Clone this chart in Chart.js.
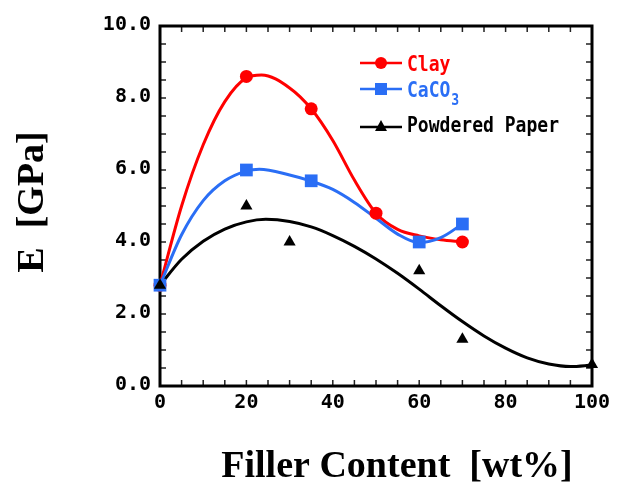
<!DOCTYPE html>
<html>
<head>
<meta charset="utf-8">
<script src="https://cdn.jsdelivr.net/npm/chart.js@4"></script>
<style>
  body { margin: 0; background: #fff; }
  canvas { display: block; }
</style>
</head>
<body>
<canvas id="myChart" width="617" height="490"></canvas>
<script>
// measured values (markers)
const clayFiller = [0, 20, 35, 50, 70];
const clayE = [2.8, 8.6, 7.7, 4.8, 4.0];
const caco3Filler = [0, 20, 35, 60, 70];
const caco3E = [2.8, 6.0, 5.7, 4.0, 4.5];
const paperFiller = [0, 20, 30, 60, 70, 100];
const paperE = [2.8, 5.0, 4.0, 3.2, 1.3, 0.6];

// smooth curves (peaks taken where they are seen)
const clayCurveX = [0, 5, 10, 15, 20, 23.5, 30, 35, 40, 45, 50, 55, 60, 65, 70];
const clayCurveE = [2.8, 5.0, 6.7, 7.9, 8.56, 8.64, 8.28, 7.7, 6.82, 5.72, 4.8, 4.35, 4.17, 4.06, 4.0];
const caco3CurveX = [0, 5, 10, 15, 20, 23, 30, 35, 40, 45, 50, 55, 60, 65, 70];
const caco3CurveE = [2.8, 4.2, 5.15, 5.7, 5.97, 6.02, 5.86, 5.69, 5.46, 5.1, 4.66, 4.22, 3.98, 4.12, 4.5];
const paperFitX = [0, 5, 10, 15, 20, 24.5, 30, 35, 40, 45, 50, 55, 60, 65, 70, 75, 80, 85, 90, 95, 100];
const paperFitE = [2.8, 3.52, 4.02, 4.36, 4.56, 4.63, 4.57, 4.42, 4.18, 3.88, 3.53, 3.13, 2.69, 2.23, 1.79, 1.39, 1.05, 0.78, 0.61, 0.54, 0.58];

const xTicks = [0, 20, 40, 60, 80, 100];
const xTickLabels = ["0", "20", "40", "60", "80", "100"];
const yTicks = [0, 2, 4, 6, 8, 10];
const yTickLabels = ["0.0", "2.0", "4.0", "6.0", "8.0", "10.0"];

const RED = "#ff0000";
const BLUE = "#2a6ef5";
const BLACK = "#000000";

const toPoints = (xs, ys) => xs.map((x, i) => ({ x: x, y: ys[i] }));

const decor = {
  id: "decor",
  beforeDatasetsDraw(chart) {
    const ctx = chart.ctx;
    const a = chart.chartArea;
    const xs = chart.scales.x;
    const ys = chart.scales.y;
    ctx.save();
    // inward ticks
    ctx.strokeStyle = "#222";
    ctx.lineWidth = 1.5;
    ctx.beginPath();
    for (let v = 0; v <= 100; v += 5) {
      const px = xs.getPixelForValue(v);
      ctx.moveTo(px, a.bottom); ctx.lineTo(px, a.bottom - 6);
      ctx.moveTo(px, a.top); ctx.lineTo(px, a.top + 6);
    }
    for (let v = 0; v <= 10; v += 0.5) {
      const py = ys.getPixelForValue(v);
      ctx.moveTo(a.left, py); ctx.lineTo(a.left + 6, py);
      ctx.moveTo(a.right, py); ctx.lineTo(a.right - 6, py);
    }
    ctx.stroke();
    // frame
    ctx.strokeStyle = BLACK;
    ctx.lineWidth = 3;
    ctx.strokeRect(a.left, a.top, a.right - a.left, a.bottom - a.top);

    // tick labels
    ctx.fillStyle = BLACK;
    ctx.font = "bold 20px 'DejaVu Sans Mono'";
    ctx.textAlign = "right";
    ctx.textBaseline = "middle";
    yTicks.forEach((v, i) => {
      ctx.fillText(yTickLabels[i], a.left - 9, ys.getPixelForValue(v) - 1);
    });
    ctx.textAlign = "center";
    ctx.textBaseline = "alphabetic";
    xTicks.forEach((v, i) => {
      ctx.fillText(xTickLabels[i], xs.getPixelForValue(v), 408);
    });

    // axis titles
    ctx.font = "bold 38px 'Liberation Serif'";
    ctx.fillText("Filler Content  [wt%]", 397, 477);
    ctx.save();
    ctx.translate(43, 202);
    ctx.rotate(-Math.PI / 2);
    ctx.fillText("E  [GPa]", 0, 0);
    ctx.restore();
    ctx.restore();
  },
  afterDraw(chart) {
    const ctx = chart.ctx;
    const rows = [
      { y: 63, color: RED, style: "circle", text: "Clay", base: 71 },
      { y: 89, color: BLUE, style: "rect", text: "CaCO", sub: "3", base: 97 },
      { y: 127, color: BLACK, style: "triangle", text: "Powdered Paper", base: 132 }
    ];
    ctx.save();
    rows.forEach(r => {
      ctx.strokeStyle = r.color;
      ctx.fillStyle = r.color;
      ctx.lineWidth = 2.5;
      ctx.beginPath();
      ctx.moveTo(360, r.y); ctx.lineTo(402, r.y);
      ctx.stroke();
      ctx.beginPath();
      if (r.style === "circle") {
        ctx.arc(381, r.y, 6, 0, Math.PI * 2);
      } else if (r.style === "rect") {
        ctx.rect(375, r.y - 6, 12, 12);
      } else {
        ctx.moveTo(381, r.y - 7);
        ctx.lineTo(387, r.y + 4);
        ctx.lineTo(375, r.y + 4);
        ctx.closePath();
      }
      ctx.fill();
      ctx.save();
      ctx.translate(407, r.base);
      ctx.scale(0.82, 1);
      ctx.font = "bold 22px 'DejaVu Sans Mono'";
      ctx.textAlign = "left";
      ctx.textBaseline = "alphabetic";
      ctx.fillText(r.text, 0, 0);
      if (r.sub) {
        const w = ctx.measureText(r.text).width;
        ctx.font = "bold 16px 'DejaVu Sans Mono'";
        ctx.fillText(r.sub, w + 1, 8);
      }
      ctx.restore();
    });
    ctx.restore();
  }
};

const markerSet = (label, xs, ys, style, radius, color) => ({
  label: label,
  data: toPoints(xs, ys),
  showLine: false,
  pointStyle: style,
  pointRadius: radius,
  pointBorderWidth: 0,
  backgroundColor: color,
  borderColor: color,
  clip: false
});

const curveSet = (label, xs, ys, color) => ({
  label: label,
  data: toPoints(xs, ys),
  showLine: true,
  cubicInterpolationMode: "monotone",
  pointRadius: 0,
  borderColor: color,
  backgroundColor: color,
  borderWidth: 3,
  clip: false
});

const ctx = document.getElementById("myChart").getContext("2d");
const myChart = new Chart(ctx, {
  type: "scatter",
  data: {
    datasets: [
      markerSet("Powdered Paper", paperFiller, paperE, "triangle", 7, BLACK),
      markerSet("CaCO3", caco3Filler, caco3E, "rect", 9, BLUE),
      markerSet("Clay", clayFiller, clayE, "circle", 6.5, RED),
      curveSet("CaCO3 curve", caco3CurveX, caco3CurveE, BLUE),
      curveSet("Clay curve", clayCurveX, clayCurveE, RED),
      curveSet("Powdered Paper fit", paperFitX, paperFitE, BLACK)
    ]
  },
  options: {
    responsive: false,
    animation: false,
    devicePixelRatio: 1,
    layout: { padding: { left: 160, right: 25, top: 26, bottom: 104 } },
    scales: {
      x: { type: "linear", min: 0, max: 100, display: false },
      y: { type: "linear", min: 0, max: 10, display: false }
    },
    plugins: {
      legend: { display: false },
      tooltip: { enabled: false }
    }
  },
  plugins: [decor]
});
</script>
</body>
</html>
